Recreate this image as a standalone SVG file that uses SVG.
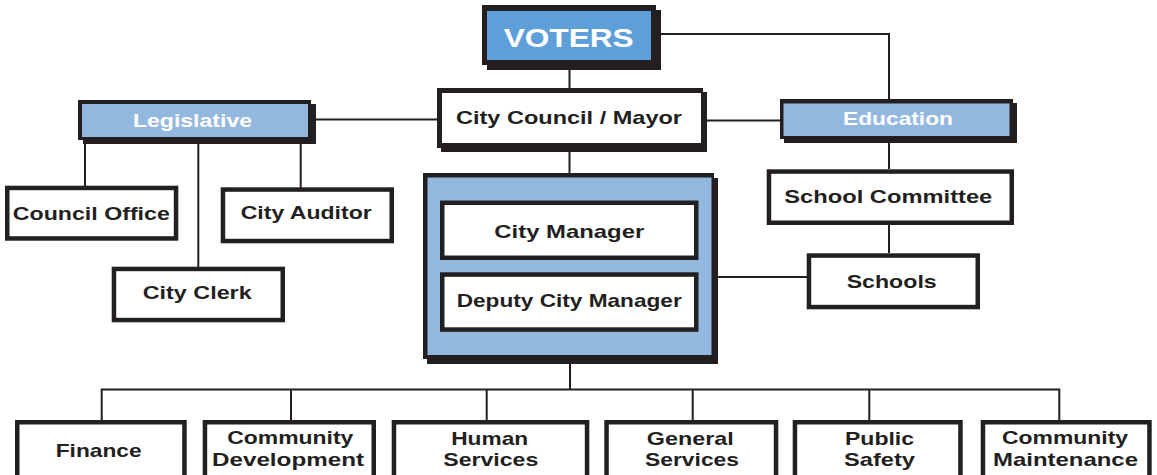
<svg xmlns="http://www.w3.org/2000/svg" width="1157" height="475" viewBox="0 0 1157 475">
<style>
.k{fill:#231f20}
.w{fill:#ffffff}
.b{fill:#93b8e0}
.bd{fill:#5e9fd9}
.leaf{fill:#ffffff;stroke:#231f20;stroke-width:4.5}
.ln{fill:none;stroke:#231f20;stroke-width:2}
text{font-family:"Liberation Sans",Arial,Helvetica,sans-serif;font-weight:bold;fill:#231f20;text-anchor:middle;font-size:19px}
.wt{fill:#ffffff}
</style>
<rect width="1157" height="475" fill="#ffffff"/>
<g id="connectors">
<path class="ln" d="M569.5,65 V88"/>
<path class="ln" d="M656,34 H889 V99"/>
<path class="ln" d="M311,119.5 H437"/>
<path class="ln" d="M707,120.5 H780"/>
<path class="ln" d="M85,140 V186"/>
<path class="ln" d="M198.3,140 V267"/>
<path class="ln" d="M300.7,140 V188"/>
<path class="ln" d="M569.5,148 V173"/>
<path class="ln" d="M714,277 H807"/>
<path class="ln" d="M889,140 V169"/>
<path class="ln" d="M889,225 V253"/>
<path class="ln" d="M570,359 V389.5"/>
<path class="ln" d="M101.7,420 V389.5 H1059.3 V420"/>
<path class="ln" d="M291,389.5 V420"/>
<path class="ln" d="M486.7,389.5 V420"/>
<path class="ln" d="M692.7,389.5 V420"/>
<path class="ln" d="M869.3,389.5 V420"/>
</g>
<g id="voters">
<rect class="k" x="482" y="5" width="174" height="60"/>
<rect class="k" x="487" y="10" width="174" height="60"/>
<rect class="bd" x="487" y="11" width="164" height="49"/>
<text class="wt" x="568.7" y="46.7" style="font-size:26.5px" textLength="130" lengthAdjust="spacingAndGlyphs">VOTERS</text>
</g>
<g id="city-council">
<rect class="k" x="437" y="88" width="266" height="60"/>
<rect class="k" x="441" y="92" width="266" height="60"/>
<rect class="w" x="442" y="93" width="259" height="50"/>
<text x="569" y="124.3" textLength="226" lengthAdjust="spacingAndGlyphs">City Council / Mayor</text>
</g>
<g id="legislative">
<rect class="k" x="78" y="100" width="233" height="40"/>
<rect class="k" x="83" y="104" width="233" height="40"/>
<rect class="b" x="82" y="104" width="226" height="33"/>
<text class="wt" x="192.5" y="126.7" style="font-size:17.7px" textLength="119" lengthAdjust="spacingAndGlyphs">Legislative</text>
</g>
<g id="education">
<rect class="k" x="780" y="99" width="233" height="40"/>
<rect class="k" x="784" y="103" width="233" height="40"/>
<rect class="b" x="783.5" y="103.5" width="226" height="32.5"/>
<text class="wt" x="898" y="125" style="font-size:18.5px" textLength="110" lengthAdjust="spacingAndGlyphs">Education</text>
</g>
<g id="council-office">
<rect class="leaf" x="7.25" y="187.95" width="168.8" height="50.5"/>
<text x="91.3" y="220" textLength="157" lengthAdjust="spacingAndGlyphs">Council Office</text>
</g>
<g id="city-auditor">
<rect class="leaf" x="222.95" y="189.55" width="168.8" height="51.5"/>
<text x="306.2" y="219" textLength="131" lengthAdjust="spacingAndGlyphs">City Auditor</text>
</g>
<g id="city-clerk">
<rect class="leaf" x="113.95" y="268.95" width="168.8" height="51.1"/>
<text x="197.2" y="299.3" textLength="109" lengthAdjust="spacingAndGlyphs">City Clerk</text>
</g>
<g id="manager-group">
<rect class="k" x="423" y="173" width="291" height="186"/>
<rect class="k" x="427" y="178" width="291" height="186"/>
<rect class="b" x="427.5" y="177.5" width="284" height="177.5"/>
</g>
<g id="city-manager">
<rect class="leaf" x="442.25" y="202.75" width="254" height="55"/>
<text x="569.3" y="238.3" textLength="150" lengthAdjust="spacingAndGlyphs">City Manager</text>
</g>
<g id="deputy-city-manager">
<rect class="leaf" x="442.25" y="274.55" width="254" height="55"/>
<text x="569.2" y="306.7" textLength="225" lengthAdjust="spacingAndGlyphs">Deputy City Manager</text>
</g>
<g id="school-committee">
<rect class="leaf" x="768.95" y="171.55" width="242.8" height="51.2"/>
<text x="888.3" y="203.3" textLength="208" lengthAdjust="spacingAndGlyphs">School Committee</text>
</g>
<g id="schools">
<rect class="leaf" x="808.95" y="255.55" width="168.8" height="51.5"/>
<text x="891.7" y="287.7" textLength="90" lengthAdjust="spacingAndGlyphs">Schools</text>
</g>
<g id="finance">
<rect class="leaf" x="17.25" y="422.25" width="167.2" height="70"/>
<text x="98.7" y="457.3" textLength="86" lengthAdjust="spacingAndGlyphs">Finance</text>
</g>
<g id="community-development">
<rect class="leaf" x="204.95" y="422.25" width="168.8" height="70"/>
<text x="290.3" y="444" textLength="126" lengthAdjust="spacingAndGlyphs">Community</text>
<text x="288" y="466" textLength="152" lengthAdjust="spacingAndGlyphs">Development</text>
</g>
<g id="human-services">
<rect class="leaf" x="393.95" y="422.25" width="193.1" height="70"/>
<text x="489.7" y="445" textLength="77" lengthAdjust="spacingAndGlyphs">Human</text>
<text x="490.8" y="466" textLength="95" lengthAdjust="spacingAndGlyphs">Services</text>
</g>
<g id="general-services">
<rect class="leaf" x="606.55" y="422.25" width="169.5" height="70"/>
<text x="690.3" y="445" textLength="87" lengthAdjust="spacingAndGlyphs">General</text>
<text x="692" y="466" textLength="94" lengthAdjust="spacingAndGlyphs">Services</text>
</g>
<g id="public-safety">
<rect class="leaf" x="794.95" y="422.25" width="165.5" height="70"/>
<text x="879.5" y="445" textLength="69" lengthAdjust="spacingAndGlyphs">Public</text>
<text x="879.5" y="466" textLength="71" lengthAdjust="spacingAndGlyphs">Safety</text>
</g>
<g id="community-maintenance">
<rect class="leaf" x="982.95" y="422.25" width="166.5" height="70"/>
<text x="1065" y="444" textLength="126" lengthAdjust="spacingAndGlyphs">Community</text>
<text x="1065.5" y="466" textLength="145" lengthAdjust="spacingAndGlyphs">Maintenance</text>
</g>
</svg>
